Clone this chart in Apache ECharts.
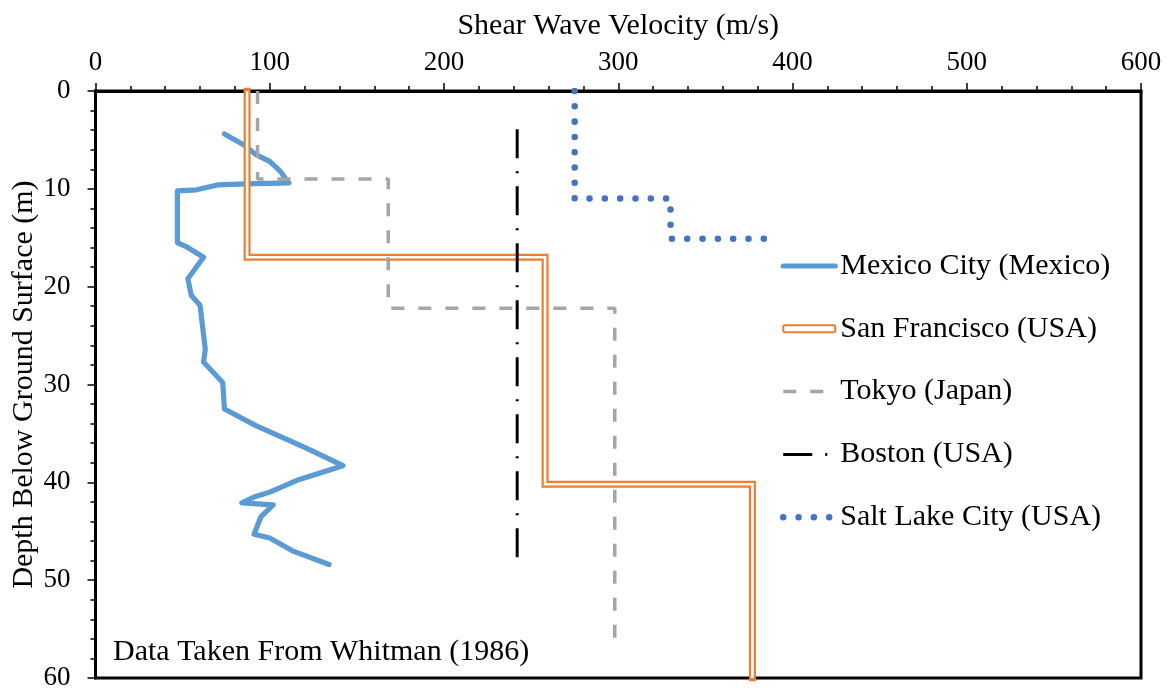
<!DOCTYPE html>
<html>
<head>
<meta charset="utf-8">
<script src="https://cdn.jsdelivr.net/npm/echarts@6/dist/echarts.min.js"></script>
<style>
  html, body { margin: 0; padding: 0; background: #fff; }
  #chart { width: 1171px; height: 693px; }
</style>
</head>
<body>
<div id="chart"></div>
<script>
// ---- Data (velocity in m/s, depth in m) ----
const seriesNames = ['Mexico City (Mexico)', 'San Francisco (USA)', 'Tokyo (Japan)', 'Boston (USA)', 'Salt Lake City (USA)'];

const mexicoVel   = [74, 85, 92, 100, 106, 111, 87, 70, 58, 47, 47, 52, 62, 53, 55, 60, 63, 62, 73, 74, 92, 121, 142, 117, 100, 91, 84, 102, 95, 91, 100, 113, 134];
const mexicoDepth = [4.4, 5.5, 6.5, 7.2, 8.2, 9.4, 9.5, 9.6, 10.1, 10.2, 15.5, 15.9, 17.0, 19.2, 20.9, 21.9, 26.4, 27.7, 29.8, 32.5, 34.2, 36.5, 38.3, 39.7, 41.0, 41.5, 42.1, 42.3, 43.5, 45.3, 45.7, 47.0, 48.4];

const sfVel   = [87, 87, 258, 258, 377, 377];
const sfDepth = [0, 17, 17, 40.2, 40.2, 60];

const tokyoVel   = [93, 93, 168, 168, 298, 298];
const tokyoDepth = [0, 9, 9, 22.2, 22.2, 56];

const bostonVel   = [242, 242];
const bostonDepth = [3.9, 48.2];

const slcVel   = [275, 275, 330, 330, 385];
const slcDepth = [0, 11, 11, 15.1, 15.1];

const xTicks = { min: 0, max: 600, interval: 100 };
const yTicks = { min: 0, max: 60, interval: 10 };

function zip(xs, ys) { return xs.map((x, i) => [x, ys[i]]); }

const FONT = 'Liberation Serif';
const chart = echarts.init(document.getElementById('chart'), null, { renderer: 'canvas' });

const option = {
  backgroundColor: '#fff',
  animation: false,
  title: {
    text: 'Data Taken From Whitman (1986)',
    left: 113, top: 637, padding: 0,
    textStyle: { fontFamily: FONT, fontSize: 30, fontWeight: 'normal', color: '#000', lineHeight: 30 }
  },
  grid: {
    left: 95.5, top: 91, width: 1045.5, height: 587,
    show: true, borderColor: '#000', borderWidth: 3, backgroundColor: 'transparent',
    containLabel: false, outerBoundsMode: 'none'
  },
  legend: {
    orient: 'vertical',
    left: 780, top: 251, padding: 0,
    itemWidth: 52, itemHeight: 7, itemGap: 32.8,
    selectedMode: false,
    textStyle: { fontFamily: FONT, fontSize: 30, color: '#000', lineHeight: 30 },
    lineStyle: { width: 'inherit', type: 'inherit', cap: 'inherit' },
    itemStyle: { opacity: 0 },
    data: [
      { name: seriesNames[0] },
      { name: seriesNames[1], icon: 'roundRect', itemStyle: { opacity: 1, color: '#fff', borderColor: '#ED7D31', borderWidth: 2 } },
      { name: seriesNames[2] },
      { name: seriesNames[3] },
      { name: seriesNames[4] }
    ]
  },
  xAxis: {
    type: 'value', position: 'top',
    min: xTicks.min, max: xTicks.max, interval: xTicks.interval,
    name: 'Shear Wave Velocity (m/s)', nameLocation: 'middle', nameGap: 50, nameMoveOverlap: false,
    nameTextStyle: { fontFamily: FONT, fontSize: 30, color: '#000' },
    axisLine: { show: true, onZero: false, lineStyle: { color: '#000', width: 3 } },
    axisTick: { show: true, inside: false, length: 8, lineStyle: { color: '#000', width: 1.5 } },
    minorTick: { show: true, splitNumber: 5, length: 5, lineStyle: { color: '#000', width: 1.5 } },
    splitLine: { show: false },
    axisLabel: { fontFamily: FONT, fontSize: 27, color: '#000', margin: 15 }
  },
  yAxis: {
    type: 'value', inverse: true,
    min: yTicks.min, max: yTicks.max, interval: yTicks.interval,
    name: 'Depth Below Ground Surface (m)', nameLocation: 'middle', nameGap: 56, nameMoveOverlap: false,
    nameTextStyle: { fontFamily: FONT, fontSize: 30, color: '#000' },
    axisLine: { show: true, onZero: false, lineStyle: { color: '#000', width: 3 } },
    axisTick: { show: true, inside: false, length: 8, lineStyle: { color: '#000', width: 1.5 } },
    minorTick: { show: true, splitNumber: 5, length: 5, lineStyle: { color: '#000', width: 1.5 } },
    splitLine: { show: false },
    axisLabel: { fontFamily: FONT, fontSize: 27, color: '#000', margin: 25 }
  },
  series: [
    {
      name: seriesNames[0], type: 'line', symbol: 'none', data: zip(mexicoVel, mexicoDepth),
      color: '#5B9BD5',
      lineStyle: { color: '#5B9BD5', width: 5.2, cap: 'round', join: 'round' }
    },
    {
      name: seriesNames[1], type: 'line', symbol: 'none', data: zip(sfVel, sfDepth),
      color: '#ED7D31',
      lineStyle: { color: '#ED7D31', width: 7, cap: 'square', join: 'miter' }
    },
    {
      name: 'sf-inner', type: 'line', symbol: 'none', data: zip(sfVel, sfDepth),
      color: '#fff', silent: true,
      lineStyle: { color: '#fff', width: 2.6, cap: 'butt', join: 'miter' }
    },
    {
      name: seriesNames[2], type: 'line', symbol: 'none', data: zip(tokyoVel, tokyoDepth),
      color: '#A5A5A5',
      lineStyle: { color: '#A5A5A5', width: 3.5, type: [13, 14], cap: 'butt' }
    },
    {
      name: seriesNames[3], type: 'line', symbol: 'none', data: zip(bostonVel, bostonDepth),
      color: '#000',
      lineStyle: { color: '#000', width: 3, type: [29, 13, 2, 13], cap: 'butt' }
    },
    {
      name: seriesNames[4], type: 'line', symbol: 'none', data: zip(slcVel, slcDepth),
      color: '#4472C4',
      lineStyle: { color: '#4472C4', width: 6.5, type: [0.01, 15.3], cap: 'round' }
    }
  ]
};
chart.setOption(option);
</script>
</body>
</html>
